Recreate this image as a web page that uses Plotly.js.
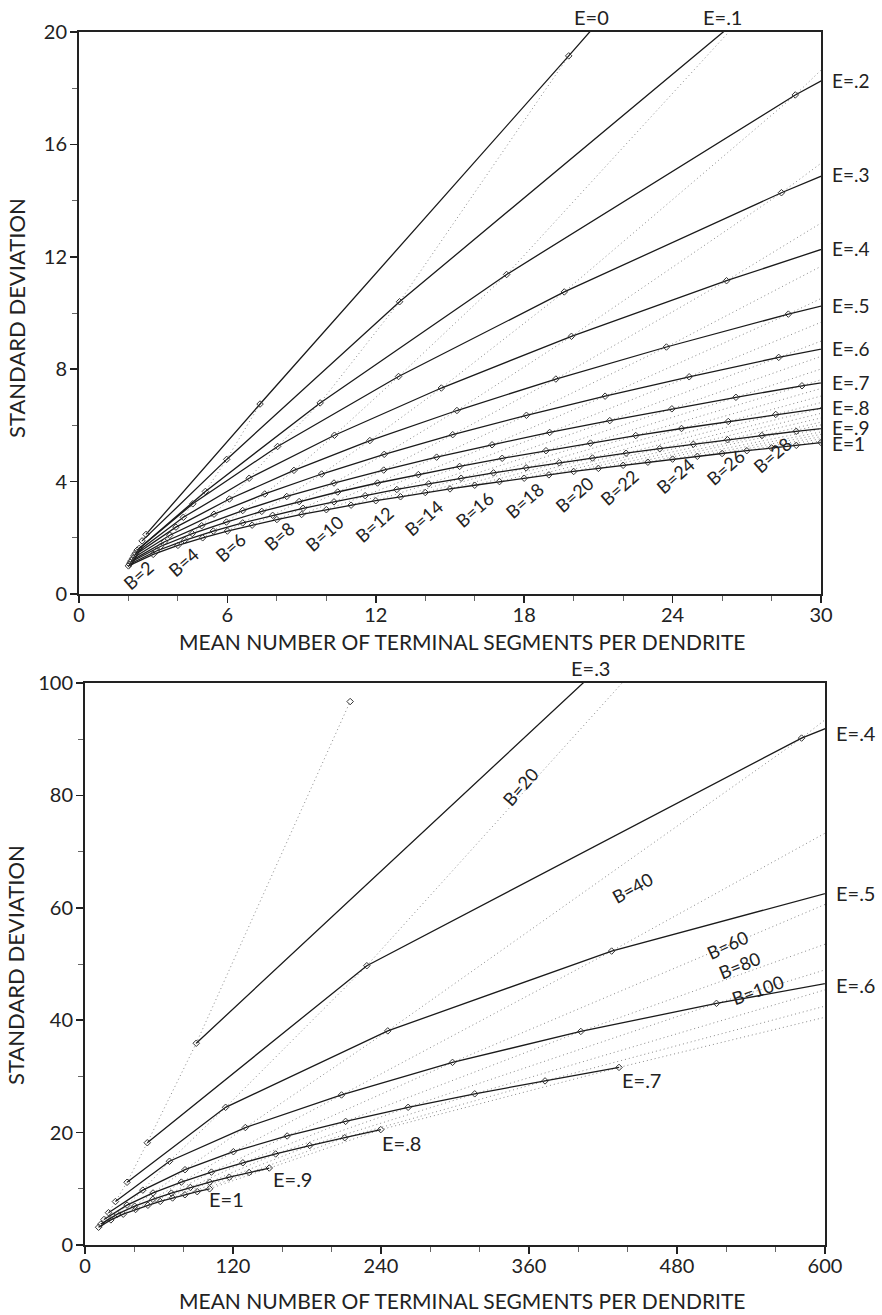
<!DOCTYPE html>
<html><head><meta charset="utf-8">
<script src="https://cdn.plot.ly/plotly-3.0.1.min.js"></script>
<style>body{margin:0;background:#fff}</style>
</head><body>
<div id="chart" style="width:882px;height:1315px"></div>
<script>
// ---------- TOP PANEL: markers at B = 1,2,3,... ----------
const topE0_n  = [2.71, 7.32, 19.8, 53.5];
const topE0_sd = [2.12, 6.76, 19.15, 53.0];
const topE1_n  = [2.55, 5.97, 12.96, 27.0, 53.1];
const topE1_sd = [1.89, 4.79, 10.4, 20.7, 38.25];
const topE2_n  = [2.43, 5.11, 9.75, 17.29, 28.96, 46.4];
const topE2_sd = [1.62, 3.65, 6.80, 11.37, 17.76, 26.07];
const topE3_n  = [2.35, 4.60, 8.03, 12.92, 19.62, 28.40, 39.75];
const topE3_sd = [1.56, 3.21, 5.25, 7.74, 10.75, 14.28, 18.43];
const topE4_n  = [2.28, 4.22, 6.88, 10.33, 14.65, 19.91, 26.18, 33.55, 42.07];
const topE4_sd = [1.45, 2.73, 4.12, 5.65, 7.33, 9.17, 11.15, 13.29, 15.59];
const topE5_n  = [2.23, 3.92, 6.08, 8.69, 11.76, 15.28, 19.28, 23.75, 28.68, 34.09, 40.0];
const topE5_sd = [1.37, 2.38, 3.38, 4.40, 5.46, 6.53, 7.65, 8.79, 9.96, 11.16, 12.39];
const topE6_n  = [2.17, 3.67, 5.46, 7.51, 9.81, 12.34, 15.11, 18.09, 21.27, 24.67, 28.29, 32.11, 36.13, 40.32];
const topE6_sd = [1.27, 2.09, 2.84, 3.56, 4.27, 4.97, 5.67, 6.36, 7.04, 7.73, 8.42, 9.11, 9.80, 10.49];
const topE7_n  = [2.12, 3.46, 4.96, 6.62, 8.40, 10.31, 12.32, 14.46, 16.70, 19.03, 21.46, 23.97, 26.56, 29.23, 31.97, 34.79, 37.67, 40.63];
const topE7_sd = [1.19, 1.86, 2.43, 2.97, 3.47, 3.95, 4.41, 4.87, 5.31, 5.75, 6.17, 6.59, 7.00, 7.41, 7.81, 8.20, 8.59, 8.98];
const topE8_n  = [2.08, 3.29, 4.58, 5.96, 7.39, 8.90, 10.46, 12.07, 13.72, 15.39, 17.11, 18.88, 20.68, 22.51, 24.36, 26.25, 28.17, 30.11, 32.08, 34.07, 36.08, 38.13];
const topE8_sd = [1.13, 1.69, 2.15, 2.56, 2.94, 3.29, 3.63, 3.95, 4.25, 4.54, 4.83, 5.10, 5.37, 5.64, 5.89, 6.14, 6.39, 6.63, 6.87, 7.10, 7.33, 7.56];
const topE9_n  = [2.04, 3.13, 4.27, 5.43, 6.62, 7.83, 9.06, 10.31, 11.57, 12.85, 14.14, 15.45, 16.76, 18.08, 19.42, 20.76, 22.12, 23.48, 24.84, 26.22, 27.61, 29.00, 30.39, 31.79, 33.20, 34.62, 36.04, 37.47, 38.89, 40.34];
const topE9_sd = [1.06, 1.53, 1.91, 2.24, 2.53, 2.80, 3.05, 3.28, 3.50, 3.72, 3.92, 4.12, 4.31, 4.49, 4.67, 4.84, 5.01, 5.17, 5.33, 5.49, 5.64, 5.79, 5.94, 6.08, 6.23, 6.37, 6.51, 6.64, 6.77, 6.90];
const topE10_n  = [2, 3, 4, 5, 6, 7, 8, 9, 10, 11, 12, 13, 14, 15, 16, 17, 18, 19, 20, 21, 22, 23, 24, 25, 26, 27, 28, 29, 30, 31];
const topE10_sd = [1.00, 1.41, 1.73, 2.00, 2.24, 2.45, 2.65, 2.83, 3.00, 3.16, 3.32, 3.46, 3.61, 3.74, 3.87, 4.00, 4.12, 4.24, 4.36, 4.47, 4.58, 4.69, 4.80, 4.90, 5.00, 5.10, 5.20, 5.29, 5.39, 5.48];

// ---------- BOTTOM PANEL: markers at B = 10,20,...,100 ----------
const botE2_n  = [215];
const botE2_sd = [96.7];
const botE3_n  = [90.2, 603, 1982];
const botE3_sd = [35.9, 140.7, 330];
const botE4_n  = [50.5, 228.5, 581, 1138];
const botE4_sd = [18.2, 49.7, 90.2, 138.5];
const botE5_n  = [34.09, 114, 245.5, 427, 657, 934, 1260];
const botE5_sd = [11.16, 24.5, 38.1, 52.3, 65.9, 79.7, 93.6];
const botE6_n  = [24.67, 68.5, 130, 208, 298, 402, 512, 643, 779, 927];
const botE6_sd = [7.73, 14.9, 20.9, 26.7, 32.5, 38.0, 43.0, 48.2, 53.0, 58.0];
const botE7_n  = [19.03, 46.9, 81.1, 120.3, 163.9, 211.3, 262, 316, 373, 433];
const botE7_sd = [5.75, 9.76, 13.4, 16.6, 19.4, 22.0, 24.5, 26.9, 29.2, 31.6];
const botE8_n  = [15.39, 34.07, 55.17, 78.1, 102.5, 128.0, 154.6, 182.2, 210.6, 239.8];
const botE8_sd = [4.54, 7.10, 9.26, 11.19, 12.97, 14.63, 16.20, 17.70, 19.09, 20.53];
const botE9_n  = [12.85, 26.22, 40.3, 55.0, 70.0, 85.4, 101.1, 117.0, 133.1, 149.4];
const botE9_sd = [3.72, 5.49, 6.90, 8.13, 9.23, 10.24, 11.18, 12.06, 12.90, 13.70];
const botE10_n  = [11, 21, 31, 41, 51, 61, 71, 81, 91, 101];
const botE10_sd = [3.16, 4.47, 5.48, 6.32, 7.07, 7.75, 8.37, 8.94, 9.49, 10.0];

// labels
const topELabels = ["E=0","E=.1","E=.2","E=.3","E=.4","E=.5","E=.6","E=.7","E=.8","E=.9","E=1"];
const topBLabels = ["B=2","B=4","B=6","B=8","B=10","B=12","B=14","B=16","B=18","B=20","B=22","B=24","B=26","B=28"];
const botBLabels = ["B=20","B=40","B=60","B=80","B=100"];
const botELabels = ["E=.3","E=.4","E=.5","E=.6","E=.7","E=.8","E=.9","E=1"];
const xTitle = "MEAN NUMBER OF TERMINAL SEGMENTS PER DENDRITE";
const yTitle = "STANDARD DEVIATION";

// ---------- build traces ----------
const topSeries = [
  [topE0_n, topE0_sd],[topE1_n, topE1_sd],[topE2_n, topE2_sd],[topE3_n, topE3_sd],
  [topE4_n, topE4_sd],[topE5_n, topE5_sd],[topE6_n, topE6_sd],[topE7_n, topE7_sd],
  [topE8_n, topE8_sd],[topE9_n, topE9_sd],[topE10_n, topE10_sd]
];
const botSeries = [
  [botE2_n, botE2_sd],[botE3_n, botE3_sd],[botE4_n, botE4_sd],[botE5_n, botE5_sd],
  [botE6_n, botE6_sd],[botE7_n, botE7_sd],[botE8_n, botE8_sd],[botE9_n, botE9_sd],[botE10_n, botE10_sd]
];

const dotLine = {color:'#8a8a8a', width:1, dash:'1px,3px'};
const solidLine = {color:'#1a1a1a', width:1.3};
const mk = {symbol:'diamond-open', size:5, color:'#333', line:{width:1, color:'#333'}};

const traces = [];
function isoB(series, xa, ya) {
  // connect points of equal branching index across E (from E=1 down to lowest E)
  let maxLen = 0;
  series.forEach(s => maxLen = Math.max(maxLen, s[0].length));
  for (let i = 0; i < maxLen; i++) {
    const xs = [], ys = [];
    for (let k = series.length - 1; k >= 0; k--) {
      if (i < series[k][0].length) { xs.push(series[k][0][i]); ys.push(series[k][1][i]); }
    }
    if (xs.length > 1) traces.push({x:xs, y:ys, xaxis:xa, yaxis:ya, mode:'lines', line:dotLine, hoverinfo:'skip'});
  }
}
isoB(topSeries, 'x', 'y');
isoB(botSeries, 'x2', 'y2');
topSeries.forEach(s => traces.push({x:s[0], y:s[1], xaxis:'x', yaxis:'y', mode:'lines+markers', line:solidLine, marker:mk}));
botSeries.forEach(s => traces.push({x:s[0], y:s[1], xaxis:'x2', yaxis:'y2', mode: s[0].length>1 ? 'lines+markers' : 'markers', line:solidLine, marker:mk}));

// ---------- annotations ----------
const FF = 'Lato, sans-serif';
const ann = [];
const tf = {family:FF, size:20, color:'#222'};
const tfs = {family:FF, size:19, color:'#222'};
function pAnn(px, py, text, font, angle) {
  return {x:px/882, y:1-py/1315, xref:'paper', yref:'paper', text:text, showarrow:false,
          xanchor:'center', yanchor:'middle', textangle:angle||0, font:font};
}
// top E labels above the frame
ann.push(pAnn(591, 17, topELabels[0], tf));
ann.push(pAnn(722, 17, topELabels[1], tf));
// top E labels at the right edge (at the line end values)
const topEright = [18.26,14.92,12.28,10.26,8.75,7.52,6.62,5.91,5.37];
topEright.forEach((yv,i) => ann.push({x:30, y:yv, xref:'x', yref:'y', text:topELabels[i+2], showarrow:false, xanchor:'left', yanchor:'middle', xshift:9, font:tfs}));
const topBpos = [[2.40,0.68],[4.22,1.15],[6.13,1.68],[8.10,2.06],[9.94,2.16],[11.96,2.48],[13.92,2.72],[16.01,3.02],[18.03,3.34],[20.05,3.55],[21.87,3.80],[24.1,4.2],[26.15,4.52],[28.03,4.95]];
topBLabels.forEach((t,i) => ann.push({x:topBpos[i][0], y:topBpos[i][1], xref:'x', yref:'y', text:t, showarrow:false, xanchor:'center', yanchor:'middle', textangle:-41, font:{family:FF, size:18, color:'#222'}}));
// bottom E labels
ann.push(pAnn(590, 668, botELabels[0], tf));
const botEright = [91.1, 62.6, 46.3];
botEright.forEach((yv,i) => ann.push({x:600, y:yv, xref:'x2', yref:'y2', text:botELabels[i+1], showarrow:false, xanchor:'left', yanchor:'middle', xshift:9, font:tf}));
const botEin = [[450.9,29.4],[257,18.1],[168,11.7],[114.4,8.2]];
botEin.forEach((p,i) => ann.push({x:p[0], y:p[1], xref:'x2', yref:'y2', text:botELabels[i+4], showarrow:false, xanchor:'center', yanchor:'middle', font:tf}));
const botBpos = [[352.8,81.5,-49],[443.6,63.5,-29],[520.6,53.4,-25],[531,49.8,-22],[545,45.4,-20]];
botBLabels.forEach((t,i) => ann.push({x:botBpos[i][0], y:botBpos[i][1], xref:'x2', yref:'y2', text:t, showarrow:false, xanchor:'center', yanchor:'middle', textangle:botBpos[i][2], font:{family:FF, size:18, color:'#222'}}));
// axis titles
const xtf = {family:FF, size:21, color:'#222'};
const ytf = {family:FF, size:22, color:'#222'};
ann.push(pAnn(462, 641, xTitle, xtf));
ann.push(pAnn(462, 1300, xTitle, xtf));
ann.push(pAnn(16, 318, yTitle, ytf, -90));
ann.push(pAnn(16, 965, yTitle, ytf, -90));

function axis(dom, rng, d0, dm, anchor, isX) {
  return {domain:dom, range:rng, anchor:anchor, tickmode:'linear', tick0:0, dtick:d0,
    ticks:'outside', ticklen:7, tickwidth:1.5, tickcolor:'#222',
    minor:{tick0:0, dtick:dm, ticks:'outside', ticklen:5, tickwidth:1, tickcolor:'#666'},
    showline:true, linewidth:2, linecolor:'#222', mirror:true, showgrid:false, zeroline:false,
    ticklabelstandoff: isX ? -5 : -1,
    tickfont:{family:FF, size:20, color:'#222'}, fixedrange:true};
}
const layout = {
  width:882, height:1315, margin:{l:0,r:0,t:0,b:0}, showlegend:false,
  paper_bgcolor:'#fff', plot_bgcolor:'#fff',
  font:{family:FF, size:20, color:'#222'},
  xaxis: axis([79/882, 821/882], [0,30], 6, 2, 'y', true),
  yaxis: axis([1-594/1315, 1-32/1315], [0,20], 4, 2, 'x', false),
  xaxis2: axis([85/882, 825/882], [0,600], 120, 40, 'y2', true),
  yaxis2: axis([1-1245/1315, 1-683/1315], [0,100], 20, 10, 'x2', false),
  annotations: ann
};
Plotly.newPlot('chart', traces, layout, {staticPlot:true});
</script>
</body></html>
